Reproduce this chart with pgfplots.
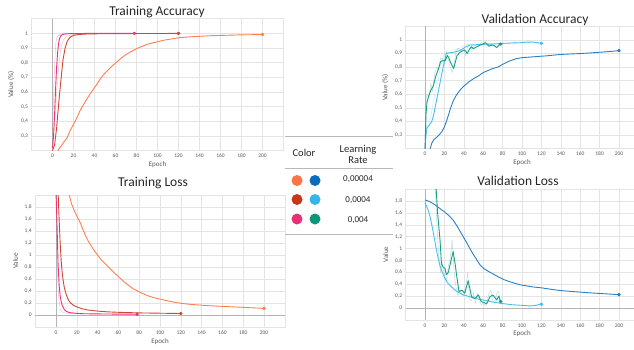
\documentclass[border=0pt]{standalone}
\usepackage{fontspec}
\setmainfont{Carlito}
\usepackage{pgfplots}
\pgfplotsset{compat=1.18}
\definecolor{cOr}{HTML}{FF7E4F}
\definecolor{cRd}{HTML}{D2452F}
\definecolor{cPk}{HTML}{EA337D}
\definecolor{cDb}{HTML}{2A80C6}
\definecolor{cLb}{HTML}{45C0EE}
\definecolor{cTl}{HTML}{17A085}
\definecolor{lOr}{HTML}{FA7446}
\definecolor{lRd}{HTML}{C8351B}
\definecolor{lPk}{HTML}{E8307A}
\definecolor{lDb}{HTML}{0A6CBB}
\definecolor{lLb}{HTML}{34B6EC}
\definecolor{lTl}{HTML}{0E967C}
\definecolor{gridgray}{HTML}{E4E4E4}
\definecolor{zerogray}{HTML}{B4B4B4}
\definecolor{labgray}{HTML}{595959}
\definecolor{titlecol}{HTML}{262626}
\pgfplotsset{
  myaxis/.style={
    scale only axis,
    xmin=-20, xmax=220,
    xtick={0,20,40,60,80,100,120,140,160,180,200},
    grid=major,
    grid style={draw=gridgray, line width=0.5pt},
    axis line style={draw=gridgray, line width=0.5pt},
    major tick length=0pt,
    tick style={draw=none},
    tick label style={font=\fontsize{5.5}{6}\selectfont, text=labgray},
    label style={font=\fontsize{7}{8}\selectfont, text=labgray},
    xlabel={Epoch},
    xlabel style={yshift=3pt},
    /pgf/number format/assume math mode=true,
    /pgf/number format/use comma,
    every axis plot/.append style={line width=0.9pt, line join=round},
  },
  acc/.style={ymin=0.2, ymax=1.1, ytick={0.3,0.4,0.5,0.6,0.7,0.8,0.9,1}, ylabel={Value (\%)}},
  loss/.style={ymin=-0.2, ymax=2.0, ytick={0,0.2,0.4,0.6,0.8,1,1.2,1.4,1.6,1.8}, ylabel={Value}},
  endmark/.style={only marks, mark=*, mark size=1.3pt},
  raw/.style={line width=0.5pt, opacity=0.3},
}
\begin{document}
\begin{tikzpicture}[x=1pt,y=1pt]
\useasboundingbox (0pt,0pt) rectangle (634pt,349pt);

% ---------------- Training Accuracy
\begin{axis}[myaxis, acc, at={(31.5pt,198.3pt)}, anchor=south west, width=252pt, height=132pt]
\draw[zerogray, line width=0.8pt] (axis cs:0,0.2) -- (axis cs:0,1.1);
\addplot[raw, cPk] coordinates {(0,0.3) (1,0.55) (2,0.78) (3,0.92) (4,0.97) (6,0.99) (10,0.998) (20,1.0)};
\addplot[raw, cRd] coordinates {(0,0.25) (2,0.4) (4,0.6) (6,0.78) (8,0.9) (10,0.95) (13,0.98) (18,0.99) (25,0.995)};
\addplot[cOr] coordinates {(5,0.2) (8,0.23) (11,0.26) (14,0.29) (17,0.34) (20,0.38) (23,0.42) (26,0.47) (30,0.52) (33,0.555) (36,0.59) (39,0.62) (42,0.65) (46,0.695) (50,0.73) (55,0.765) (58,0.785) (62,0.81) (66,0.835) (70,0.855) (74,0.873) (78,0.888) (83,0.905) (90,0.925) (95,0.935) (100,0.943) (105,0.952) (110,0.958) (115,0.964) (121,0.971) (130,0.976) (140,0.98) (150,0.984) (160,0.986) (170,0.988) (180,0.99) (190,0.991) (200,0.992)};
\addplot[endmark, cOr] coordinates {(200,0.992)};
\addplot[cRd] coordinates {(0,0.2) (2,0.24) (4,0.36) (6,0.53) (8,0.68) (10,0.82) (12,0.9) (14,0.945) (16,0.968) (18,0.98) (21,0.988) (25,0.992) (30,0.995) (40,0.997) (60,0.998) (80,0.999) (100,0.999) (120,1.0)};
\addplot[endmark, cRd] coordinates {(120,1.0)};
\addplot[cPk] coordinates {(0,0.22) (1,0.3) (2,0.45) (3,0.63) (4,0.78) (5,0.88) (6,0.94) (7,0.97) (8,0.985) (10,0.993) (13,0.997) (20,0.999) (40,1.0) (78,1.0)};
\addplot[endmark, cPk] coordinates {(78,1.0)};
\end{axis}

% ---------------- Training Loss
\begin{axis}[myaxis, loss, at={(35.2pt,22pt)}, anchor=south west, width=249.6pt, height=132pt]
\draw[zerogray, line width=0.8pt] (axis cs:0,-0.2) -- (axis cs:0,2.0);
\draw[zerogray, line width=0.8pt] (axis cs:-20,0) -- (axis cs:220,0);
\addplot[raw, cPk] coordinates {(0,2.05) (1,1.0) (2,0.45) (3,0.2) (4,0.1) (6,0.05) (10,0.03) (20,0.02)};
\addplot[cOr] coordinates {(12,2.05) (15,1.85) (18,1.72) (20,1.65) (23,1.55) (26,1.42) (29,1.3) (32,1.2) (35,1.12) (39,1.02) (43,0.93) (47,0.86) (51,0.79) (55,0.72) (60,0.64) (65,0.56) (70,0.49) (74,0.44) (80,0.385) (85,0.345) (90,0.31) (95,0.285) (100,0.265) (106,0.24) (112,0.22) (118,0.2) (124,0.187) (130,0.176) (138,0.166) (146,0.156) (155,0.148) (165,0.14) (175,0.132) (185,0.123) (195,0.115) (200,0.11)};
\addplot[endmark, cOr] coordinates {(200,0.11)};
\addplot[cRd] coordinates {(2,2.05) (3,1.6) (4,1.2) (5,0.9) (6,0.7) (7,0.56) (8,0.46) (10,0.33) (12,0.25) (14,0.2) (17,0.16) (20,0.135) (25,0.105) (30,0.085) (40,0.065) (50,0.052) (60,0.045) (70,0.04) (80,0.035) (100,0.03) (120,0.025)};
\addplot[endmark, cRd] coordinates {(120,0.025)};
\addplot[cPk] coordinates {(0,2.05) (1,1.5) (2,0.85) (3,0.5) (4,0.32) (5,0.22) (6,0.16) (8,0.09) (10,0.06) (13,0.04) (18,0.03) (25,0.022) (40,0.018) (60,0.015) (78,0.013)};
\addplot[endmark, cPk] coordinates {(78,0.013)};
\end{axis}

% ---------------- Validation Accuracy
\begin{axis}[myaxis, acc, at={(405.6pt,200.4pt)}, anchor=south west, width=232.8pt, height=122.2pt]
\draw[zerogray, line width=0.8pt] (axis cs:0,0.2) -- (axis cs:0,1.1);
\addplot[raw, cTl] coordinates {(0,0.2) (1,0.55) (2,0.6) (4,0.58) (6,0.68) (8,0.62) (10,0.75) (12,0.8) (14,0.78) (16,0.87) (18,0.86) (20,0.82) (22,0.92) (24,0.86) (26,0.8) (28,0.76) (30,0.82) (32,0.92) (34,0.94) (36,0.93) (38,0.92) (40,0.94) (42,0.88) (44,0.95) (46,0.96) (48,0.93) (50,0.95) (52,0.96) (54,0.97) (56,0.96) (58,0.98) (60,0.97) (62,0.99) (64,0.96) (66,0.95) (68,0.97) (70,0.96) (72,0.95) (74,0.94) (76,0.97) (78,0.97)};
\addplot[raw, cLb] coordinates {(0,0.2) (2,0.38) (4,0.4) (6,0.44) (8,0.52) (10,0.6) (12,0.66) (14,0.72) (16,0.82) (18,0.86) (20,0.9) (24,0.91) (28,0.9) (32,0.93) (36,0.94) (40,0.96) (46,0.97) (52,0.96) (60,0.97) (70,0.975) (80,0.97) (90,0.98) (100,0.985) (110,0.98) (120,0.975)};
\addplot[cDb] coordinates {(5,0.19) (7,0.24) (9,0.265) (13,0.29) (17,0.32) (20,0.36) (23,0.42) (26,0.49) (29,0.55) (32,0.59) (36,0.63) (40,0.66) (45,0.69) (50,0.715) (55,0.735) (60,0.76) (65,0.775) (70,0.79) (75,0.8) (80,0.82) (87,0.845) (94,0.862) (100,0.87) (108,0.874) (115,0.878) (125,0.883) (139,0.893) (150,0.897) (160,0.9) (173,0.906) (185,0.912) (195,0.918) (200,0.922)};
\addplot[endmark, cDb] coordinates {(200,0.922)};
\addplot[cLb] coordinates {(0,0.19) (1,0.3) (2,0.35) (4,0.37) (7,0.4) (9,0.45) (12,0.56) (14,0.63) (17,0.74) (19,0.81) (21,0.87) (22,0.9) (25,0.905) (30,0.91) (36,0.922) (41,0.945) (46,0.963) (52,0.965) (60,0.968) (70,0.97) (80,0.975) (90,0.978) (98,0.98) (105,0.984) (111,0.985) (116,0.98) (120,0.975)};
\addplot[endmark, cLb] coordinates {(120,0.975)};
\addplot[cTl] coordinates {(0,0.19) (1,0.45) (2,0.54) (3.5,0.58) (6,0.63) (8.5,0.66) (11,0.73) (14,0.79) (16,0.84) (19,0.85) (21,0.85) (23,0.885) (24.5,0.87) (26,0.84) (28,0.81) (29.5,0.79) (31,0.83) (33,0.885) (36,0.91) (39,0.92) (41,0.926) (43.5,0.9) (46,0.935) (48,0.95) (50,0.935) (52,0.945) (55,0.955) (57,0.963) (60,0.97) (62,0.98) (64,0.97) (66,0.955) (68,0.96) (70,0.963) (72,0.955) (74,0.945) (76,0.96) (78,0.97)};
\addplot[endmark, cTl] coordinates {(78,0.97)};
\end{axis}

% ---------------- Validation Loss
\begin{axis}[myaxis, loss, at={(405.6pt,29.1pt)}, anchor=south west, width=232.8pt, height=130.7pt]
\draw[zerogray, line width=0.8pt] (axis cs:0,-0.2) -- (axis cs:0,2.0);
\draw[zerogray, line width=0.8pt] (axis cs:-20,0) -- (axis cs:220,0);
\addplot[raw, cTl] coordinates {(10,2.3) (12,1.5) (14,0.9) (16,0.6) (18,0.75) (20,0.55) (22,0.45) (24,0.7) (26,0.85) (28,1.15) (30,0.6) (32,0.35) (34,0.2) (36,0.3) (38,0.22) (40,0.2) (42,0.35) (44,0.6) (46,0.15) (48,0.12) (50,0.25) (52,0.08) (54,0.25) (56,0.15) (58,0.05) (60,0.1) (62,0.03) (64,0.12) (66,0.25) (68,0.3) (70,0.12) (72,0.08) (74,0.25) (76,0.28) (78,0.05)};
\addplot[cDb] coordinates {(0,1.82) (5,1.79) (10,1.74) (15,1.68) (20,1.62) (25,1.55) (29,1.48) (33,1.38) (38,1.24) (43,1.1) (48,0.95) (53,0.82) (57,0.72) (61,0.66) (65,0.62) (70,0.575) (75,0.53) (81,0.48) (88,0.44) (95,0.405) (100,0.385) (111,0.355) (120,0.34) (130,0.315) (139,0.295) (150,0.28) (160,0.268) (173,0.252) (185,0.24) (200,0.225)};
\addplot[endmark, cDb] coordinates {(200,0.225)};
\addplot[cLb] coordinates {(0,1.77) (3,1.66) (5,1.55) (7,1.4) (9,1.23) (11,1.05) (13,0.88) (15,0.74) (17,0.64) (20,0.52) (23,0.43) (27,0.36) (31,0.3) (35,0.26) (40,0.22) (46,0.19) (52,0.16) (60,0.135) (70,0.1) (80,0.075) (90,0.055) (100,0.045) (108,0.035) (114,0.045) (120,0.065)};
\addplot[endmark, cLb] coordinates {(120,0.065)};
\addplot[cTl] coordinates {(10,2.3) (11.5,2.0) (13,1.6) (15.5,1.14) (17,0.74) (19,0.68) (20.6,0.67) (22,0.56) (24,0.6) (26,0.74) (29,0.95) (31,0.75) (32.6,0.55) (35,0.28) (38,0.3) (41,0.25) (44.5,0.46) (48,0.19) (51.5,0.16) (55,0.22) (58,0.11) (61,0.09) (63.6,0.07) (67,0.19) (70,0.22) (74,0.135) (76,0.2) (78,0.11)};
\addplot[endmark, cTl] coordinates {(78,0.11)};
\end{axis}

% ---------------- Titles
\node[font=\fontsize{13.5}{15}\selectfont, text=titlecol] at (157pt,337pt) {Training Accuracy};
\node[font=\fontsize{13.5}{15}\selectfont, text=titlecol] at (153pt,166pt) {Training Loss};
\node[font=\fontsize{13.5}{15}\selectfont, text=titlecol] at (535pt,329pt) {Validation Accuracy};
\node[font=\fontsize{13.5}{15}\selectfont, text=titlecol] at (518pt,168pt) {Validation Loss};

% ---------------- Legend table
\draw[gray!55, line width=0.8pt] (285pt,213pt) -- (393pt,213pt);
\draw[gray!55, line width=0.8pt] (285pt,181pt) -- (393pt,181pt);
\draw[gray!55, line width=0.8pt] (285pt,115pt) -- (393pt,115pt);
\node[font=\fontsize{10.5}{12}\selectfont, text=titlecol] at (304pt,196pt) {Color};
\node[font=\fontsize{10.5}{12}\selectfont, text=titlecol, align=center] at (358pt,195pt) {Learning\\[-1pt]Rate};
\fill[lOr] (297pt,168.5pt) circle (5.5pt);
\fill[lDb] (315pt,168.5pt) circle (5.5pt);
\fill[lRd] (297pt,149.5pt) circle (5.5pt);
\fill[lLb] (315pt,149.5pt) circle (5.5pt);
\fill[lPk] (297pt,130pt) circle (5.5pt);
\fill[lTl] (315pt,130pt) circle (5.5pt);
\node[font=\fontsize{9}{10}\selectfont, text=titlecol] at (358pt,170pt) {0,00004};
\node[font=\fontsize{9}{10}\selectfont, text=titlecol] at (358pt,149pt) {0,0004};
\node[font=\fontsize{9}{10}\selectfont, text=titlecol] at (358pt,129pt) {0,004};
\end{tikzpicture}
\end{document}
